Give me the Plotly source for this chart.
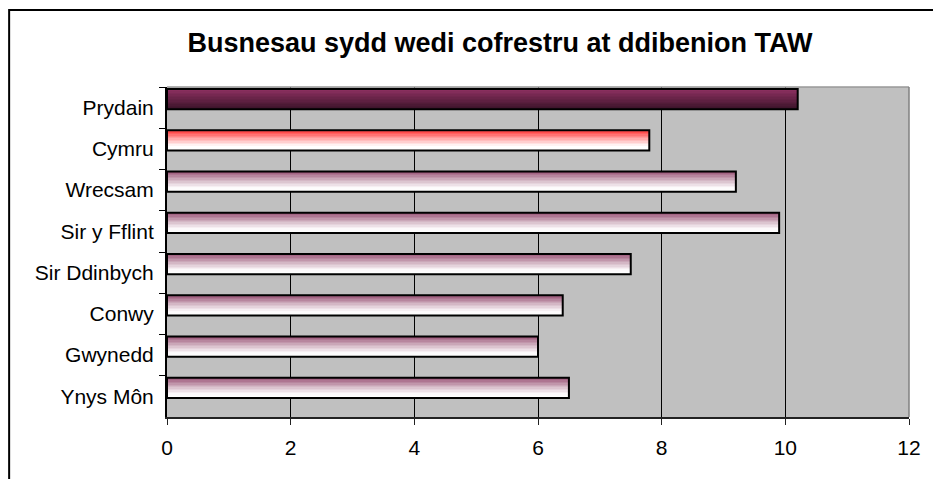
import plotly.graph_objects as go

categories = ["Prydain", "Cymru", "Wrecsam", "Sir y Fflint", "Sir Ddinbych", "Conwy", "Gwynedd", "Ynys Môn"]
values = [10.2, 7.8, 9.2, 9.9, 7.5, 6.4, 6.0, 6.5]
styles = ["dark", "red", "pink", "pink", "pink", "pink", "pink", "pink"]
x_ticks = [0, 2, 4, 6, 8, 10, 12]
title_text = "Busnesau sydd wedi cofrestru at ddibenion TAW"

# gradient stops (top -> bottom) per bar style
gradients = {
    "dark": [(0.0, (0x92, 0x32, 0x64)), (1.0, (0x3c, 0x14, 0x2a))],
    "red": [(0.0, (0xff, 0x30, 0x30)), (0.45, (0xff, 0xa8, 0xa8)), (0.8, (0xff, 0xff, 0xff)), (1.0, (0xff, 0xff, 0xff))],
    "pink": [(0.0, (0x96, 0x4c, 0x70)), (0.45, (0xd2, 0xb4, 0xc3)), (0.8, (0xfc, 0xf8, 0xfa)), (1.0, (0xff, 0xff, 0xff))],
}


def grad_color(stops, t):
    for (t0, c0), (t1, c1) in zip(stops[:-1], stops[1:]):
        if t0 <= t <= t1:
            f = 0 if t1 == t0 else (t - t0) / (t1 - t0)
            c = [round(a + (b - a) * f) for a, b in zip(c0, c1)]
            return "rgb(%d,%d,%d)" % tuple(c)
    return "rgb(%d,%d,%d)" % stops[-1][1]


BAR_OFFSET = -0.45
BAR_WIDTH = 0.49
N = 14
step = BAR_WIDTH / N

fig = go.Figure()
for k in range(N):
    t = (k + 0.5) / N
    colors = [grad_color(gradients[s], t) for s in styles]
    fig.add_trace(go.Bar(
        x=values, y=categories, orientation="h",
        offset=BAR_OFFSET + k * step, width=step * 1.08,
        marker=dict(color=colors, line=dict(width=0)),
        showlegend=False, hoverinfo="skip",
    ))

fig.add_trace(go.Bar(
    x=values, y=categories, orientation="h",
    offset=BAR_OFFSET, width=BAR_WIDTH,
    marker=dict(color="rgba(0,0,0,0)", line=dict(color="black", width=2)),
    showlegend=False,
))

W, H = 933, 479
ml, mr, mt, mb = 167, 21, 87, 62
pw, ph = W - ml - mr, H - mt - mb

def px_to_paper_x(px):
    return (px - ml) / pw

def px_to_paper_y(py):
    return (H - mb - py) / ph

shapes = [
    # outer chart frame (extends beyond the right and bottom edges)
    dict(type="rect", xref="paper", yref="paper",
         x0=px_to_paper_x(8.5), x1=px_to_paper_x(960),
         y0=px_to_paper_y(520), y1=px_to_paper_y(10),
         line=dict(color="black", width=2), fillcolor="rgba(0,0,0,0)", layer="above"),
    # plot area top / right border
    dict(type="line", xref="paper", yref="paper", x0=0, x1=1, y0=1, y1=1,
         line=dict(color="#999999", width=1.5), layer="above"),
    dict(type="line", xref="paper", yref="paper", x0=1, x1=1, y0=0, y1=1,
         line=dict(color="#808080", width=1.5), layer="above"),
]

fig.update_layout(
    width=W, height=H,
    margin=dict(l=ml, r=mr, t=mt, b=mb, pad=0),
    paper_bgcolor="white",
    plot_bgcolor="#c0c0c0",
    barmode="overlay",
    font=dict(family="Liberation Sans, Arial, sans-serif", color="black", size=21),
    title=dict(text="<b>" + title_text + "</b>", x=500 / W, xref="container", xanchor="center",
               y=1 - 43 / H, yref="container", yanchor="middle",
               font=dict(size=27, family="Liberation Sans, Arial, sans-serif", color="black")),
    xaxis=dict(range=[0, 12], tickvals=x_ticks, ticktext=[str(v) for v in x_ticks],
               showgrid=True, gridcolor="black", gridwidth=1, zeroline=False,
               showline=True, linecolor="#222222", linewidth=1.5,
               ticks="outside", ticklen=6, tickcolor="#222222", tickwidth=1,
               ticklabelstandoff=5,
               tickfont=dict(size=21), fixedrange=True),
    yaxis=dict(categoryorder="array", categoryarray=categories, range=[7.5, -0.5],
               showgrid=False, zeroline=False, showline=True, linecolor="black", linewidth=2,
               ticks="outside", ticklen=6, tickson="boundaries", tickcolor="black", tickwidth=1,
               ticklabelstandoff=7,
               tickfont=dict(size=21), fixedrange=True),
    shapes=shapes,
)

fig.write_html("out.html", config={"displayModeBar": False},
               post_script="document.body.style.margin='0';document.body.style.overflow='hidden';")
